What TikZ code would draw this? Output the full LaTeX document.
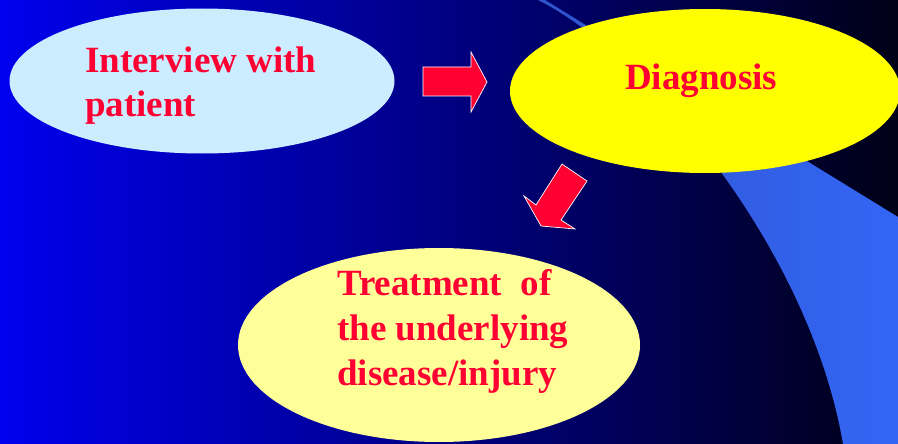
\documentclass[tikz,border=0pt]{standalone}
\usepackage{fontspec}
\setmainfont{Liberation Serif}
\usetikzlibrary{shapes.geometric}

\definecolor{bgleft}{RGB}{0,0,238}
\definecolor{bgright}{RGB}{0,0,22}
\definecolor{bandleft}{RGB}{48,84,205}
\definecolor{bandright}{RGB}{51,102,245}
\definecolor{skyblue}{RGB}{204,236,255}
\definecolor{brightyellow}{RGB}{255,255,0}
\definecolor{paleyellow}{RGB}{255,255,153}
\definecolor{txtred}{RGB}{255,0,51}

\begin{document}
\begin{tikzpicture}[x=1pt,y=-1pt,every node/.style={font=\bfseries\fontsize{37}{44}\selectfont,text=txtred},
  oval/.style={ellipse,draw=none,inner sep=0pt},
  blockarrow/.style={fill=txtred,draw=white,line width=0.7pt,line join=miter}]
\useasboundingbox (0,0) rectangle (898,444);
\clip (0,0) rectangle (898,444);
% background and band
\shade[left color=bgleft,right color=bgright] (0,0) rectangle (898,444);
\shade[left color=bandleft,right color=bandright] (538,0) .. controls (648,55) and (810,250) .. (843,444) -- (898,444) -- (898,217) -- (545,0) -- cycle;
% ovals
\node[oval,fill=skyblue,minimum width=385pt,minimum height=145pt] (interview) at (202,81) {};
\node[oval,fill=brightyellow,minimum width=390pt,minimum height=164pt] (diagnosis) at (705,91) {};
\node[oval,fill=paleyellow,minimum width=402pt,minimum height=194pt] (treatment) at (439,345) {};
% texts
\node[anchor=north west,align=left,inner sep=0pt] (interviewtext) at (85,47) {Interview with\\patient};
\node[anchor=base west,inner sep=0pt] (diagnosistext) at (625,90) {Diagnosis};
\node[anchor=north west,align=left,inner sep=0pt,font=\bfseries\fontsize{37}{45}\selectfont] (treatmenttext) at (337,269) {Treatment~~of\\the underlying\\disease/injury};
% block arrows
\draw[blockarrow] (423,67) -- (471,67) -- (471,52) -- (487,82) -- (471,112) -- (471,96) -- (423,96) -- cycle;
\draw[blockarrow] (562,164) -- (587,181) -- (561,220) -- (575,229) -- (541,226) -- (524,196) -- (536,205) -- cycle;
\end{tikzpicture}
\end{document}
